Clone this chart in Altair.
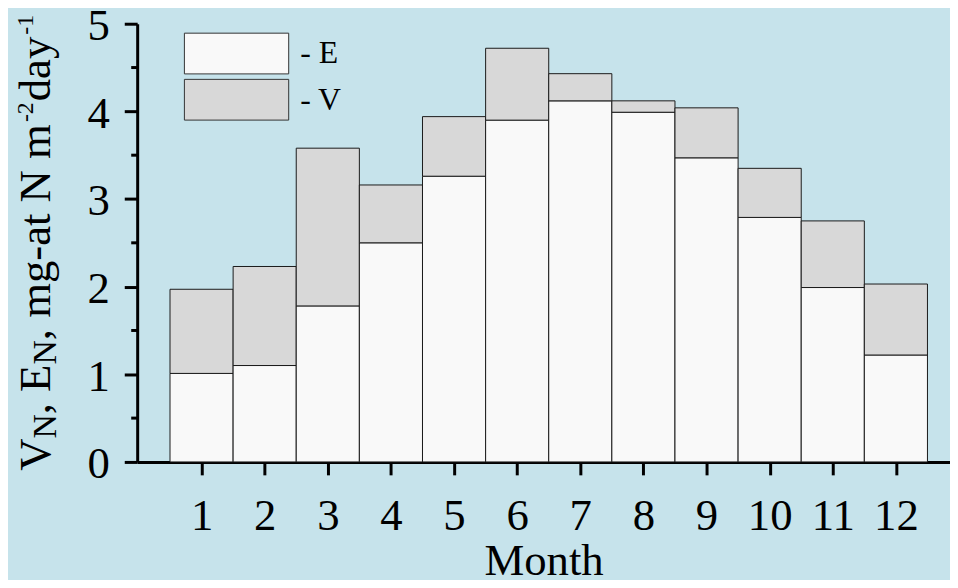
import altair as alt
import pandas as pd

# ---- data ----
months = list(range(1, 13))
e_values = [1.01, 1.10, 1.78, 2.50, 3.26, 3.90, 4.12, 3.99, 3.47, 2.79, 1.99, 1.22]
total_values = [1.97, 2.23, 3.58, 3.16, 3.94, 4.72, 4.43, 4.12, 4.04, 3.35, 2.75, 2.03]
series = ["E", "V"]
y_ticks = [0, 1, 2, 3, 4, 5]
y_minor = [0.5, 1.5, 2.5, 3.5, 4.5]
x_title = "Month"

rows = []
for m, e, t in zip(months, e_values, total_values):
    rows.append({"month": m, "series": "E", "lo": 0.0, "hi": e})
    rows.append({"month": m, "series": "V", "lo": e, "hi": t})
df = pd.DataFrame(rows)

FONT = "Liberation Serif"
W, H = 818, 441
BG = "#C6E3EB"

xscale = alt.Scale(domain=[-0.02, 12.857], nice=False, zero=False)
yscale = alt.Scale(domain=[0, 5], nice=False, zero=True)

y_axis = alt.Axis(
    values=y_ticks,
    format="d",
    title=None,
    labelFont=FONT,
    labelFontSize=45,
    labelColor="black",
    labelPadding=15,
    labelOffset=2,
    labelFlush=False,
    labelOverlap=False,
    tickSize=13,
    tickWidth=3,
    tickColor="black",
    domainWidth=3,
    domainColor="black",
    grid=False,
)

x_axis = alt.Axis(
    values=months,
    format="d",
    title=x_title,
    titleFont=FONT,
    titleFontSize=45,
    titleFontWeight="normal",
    titleColor="black",
    titleY=113,
    titleX=W / 2,
    titleAlign="center",
    titleBaseline="alphabetic",
    labelFont=FONT,
    labelFontSize=45,
    labelColor="black",
    labelPadding=19,
    labelFlush=False,
    labelOverlap=False,
    tickSize=13,
    tickWidth=3,
    tickColor="black",
    domainWidth=3,
    domainColor="black",
    grid=False,
)

bars = (
    alt.Chart(df)
    .transform_calculate(x0="datum.month - 0.5", x1="datum.month + 0.5")
    .mark_rect(stroke="#1a1a1a", strokeWidth=1, opacity=1)
    .encode(
        x=alt.X("x0:Q", scale=xscale, axis=x_axis),
        x2="x1:Q",
        y=alt.Y("lo:Q", scale=yscale, axis=y_axis),
        y2="hi:Q",
        color=alt.Color(
            "series:N",
            scale=alt.Scale(domain=series, range=["#F9F9F9", "#D8D8D8"]),
            legend=alt.Legend(
                orient="none",
                legendX=79,
                legendY=9,
                title=None,
                padding=0,
                symbolType="M-2.56,-1H2.56V1H-2.56Z",
                symbolSize=1681,
                symbolStrokeColor="#333333",
                symbolStrokeWidth=1,
                symbolOpacity=1,
                labelFont=FONT,
                labelFontSize=32,
                labelColor="black",
                labelOffset=43,
                labelExpr="'- ' + datum.label",
                rowPadding=0.5,
            ),
        ),
    )
)

minor = (
    alt.Chart(pd.DataFrame({"v": y_minor}))
    .mark_rule(color="black", strokeWidth=3)
    .encode(y=alt.Y("v:Q", scale=yscale, axis=y_axis), x=alt.value(-6), x2=alt.value(0))
)

# y title pieces (rotated, with subscripts / superscripts)
title_main = ["V", ", E", ", mg-at N m", "day"]
title_sub = ["N", "N"]
title_sup = ["-2", "-1"]


def piece(txt, page_x, page_y, size):
    return alt.Chart(pd.DataFrame({"t": [txt]})).mark_text(
        angle=270, align="left", baseline="alphabetic", font=FONT,
        fontSize=size, color="black",
    ).encode(text="t:N", x=alt.value(page_x - 138), y=alt.value(page_y - 22))


MAIN_X, SUB_X, SUP_X = 50, 56, 33
pieces = [
    piece(title_main[0], MAIN_X, 472, 45),
    piece(title_sub[0], SUB_X, 439.5, 34),
    piece(title_main[1], MAIN_X, 415, 45),
    piece(title_sub[1], SUB_X, 365, 34),
    piece(title_main[2], MAIN_X, 340.5, 45),
    piece(title_sup[0], SUP_X, 121, 24),
    piece(title_main[3], MAIN_X, 100, 45),
    piece(title_sup[1], SUP_X, 33, 24),
]

chart = (
    alt.layer(bars, minor, *pieces)
    .properties(
        width=W,
        height=H,
        padding={"left": 130, "top": 14, "right": 0, "bottom": 117},
        autosize=alt.AutoSizeParams(type="none"),
        background=BG,
    )
    .configure_view(stroke=None)
)

chart.save("out.html", embed_options={"renderer": "svg", "actions": False})
